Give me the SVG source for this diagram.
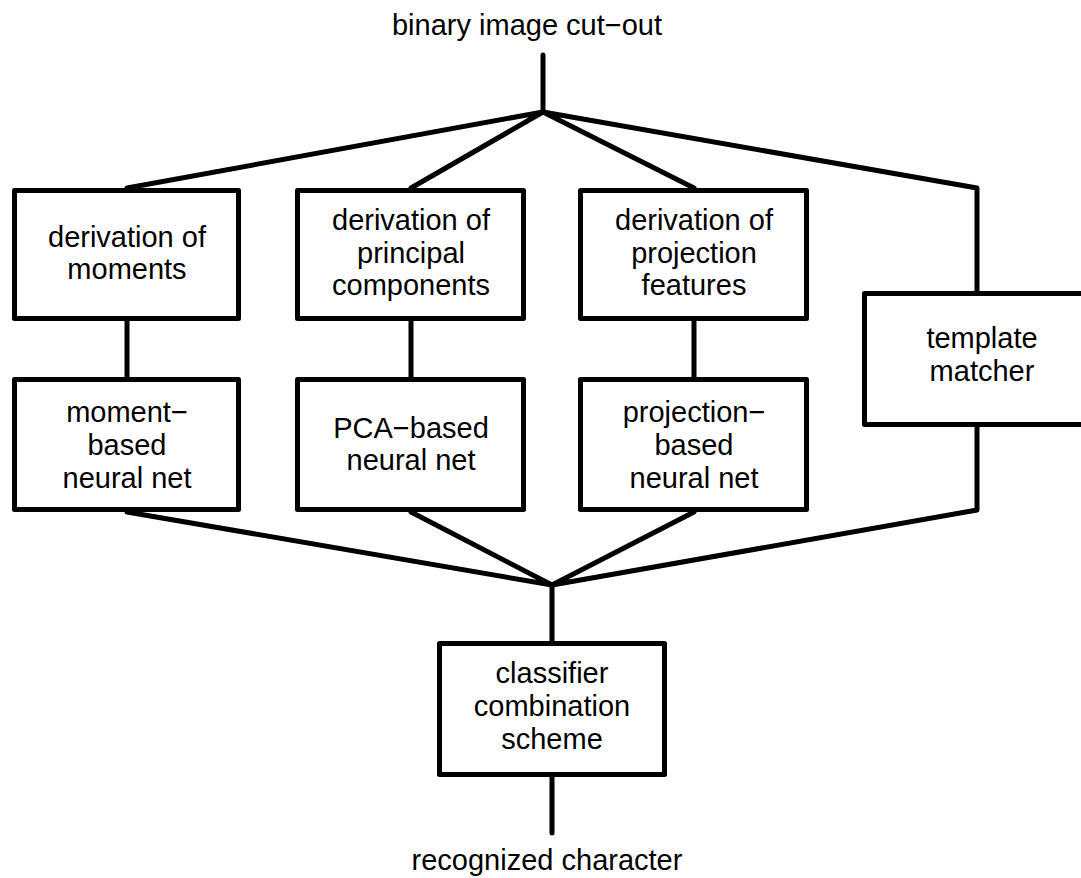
<svg xmlns="http://www.w3.org/2000/svg" width="1081" height="878" viewBox="0 0 1081 878">
<style>
.box{fill:#fff;stroke:#000;stroke-width:5;stroke-linejoin:round}
.ln{fill:none;stroke:#000;stroke-width:5;stroke-linejoin:round;stroke-linecap:round}
text{font-family:"Liberation Sans",Arial,sans-serif;font-size:29px;fill:#000;text-anchor:middle}
</style>
<rect width="1081" height="878" fill="#fff"/>
<g id="connectors">
<polyline class="ln" points="543,55 543,112"/>
<polyline class="ln" points="127,188 543,112 411,188"/>
<polyline class="ln" points="694,188 543,112 977,188 977,291"/>
<line class="ln" x1="127" y1="321" x2="127" y2="377"/>
<line class="ln" x1="411" y1="321" x2="411" y2="377"/>
<line class="ln" x1="694" y1="321" x2="694" y2="377"/>
<polyline class="ln" points="127,512 552,585 411,512"/>
<polyline class="ln" points="694,512 552,585 977,510 977,427"/>
<line class="ln" x1="552" y1="585" x2="552" y2="641"/>
<line class="ln" x1="552" y1="777" x2="552" y2="833"/>
</g>
<g id="input"><text x="527" y="35">binary image cut−out</text></g>
<g id="deriv-moments">
<rect class="box" x="14.5" y="190.5" width="224" height="128"/>
<text x="127" y="247">derivation of</text><text x="127" y="279">moments</text>
</g>
<g id="deriv-pca">
<rect class="box" x="297.5" y="190.5" width="226" height="128"/>
<text x="411" y="230">derivation of</text><text x="411" y="263">principal</text><text x="411" y="295">components</text>
</g>
<g id="deriv-proj">
<rect class="box" x="580.5" y="190.5" width="226" height="128"/>
<text x="694" y="230">derivation of</text><text x="694" y="263">projection</text><text x="694" y="295">features</text>
</g>
<g id="template">
<rect class="box" x="864.5" y="293.5" width="240" height="131"/>
<text x="982" y="348">template</text><text x="982" y="381">matcher</text>
</g>
<g id="nn-moments">
<rect class="box" x="14.5" y="379.5" width="224" height="130"/>
<text x="127" y="422">moment−</text><text x="127" y="455">based</text><text x="127" y="488">neural net</text>
</g>
<g id="nn-pca">
<rect class="box" x="297.5" y="379.5" width="226" height="130"/>
<text x="411" y="438">PCA−based</text><text x="411" y="470">neural net</text>
</g>
<g id="nn-proj">
<rect class="box" x="580.5" y="379.5" width="226" height="130"/>
<text x="694" y="422">projection−</text><text x="694" y="455">based</text><text x="694" y="488">neural net</text>
</g>
<g id="combiner">
<rect class="box" x="439.5" y="643.5" width="225" height="131"/>
<text x="552" y="683">classifier</text><text x="552" y="716">combination</text><text x="552" y="749">scheme</text>
</g>
<g id="output"><text x="547" y="870">recognized character</text></g>
</svg>
